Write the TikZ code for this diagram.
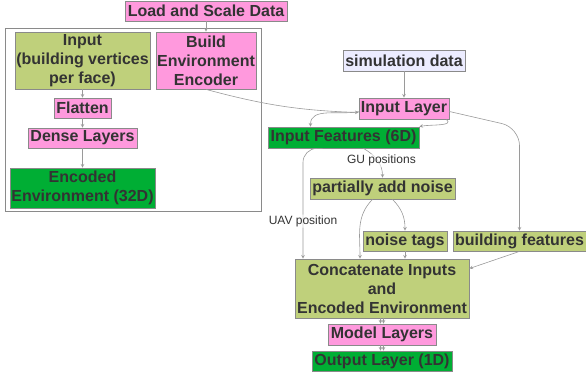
\documentclass[tikz,border=0pt]{standalone}
\usepackage{fontspec}
\setsansfont{Liberation Sans}
\definecolor{pinkfill}{HTML}{FF99DD}
\definecolor{olivefill}{HTML}{BFD07B}
\definecolor{greenfill}{HTML}{00AE34}
\definecolor{lavfill}{HTML}{ECECFF}
\definecolor{boxgray}{HTML}{8A8A8A}
\definecolor{edgegray}{HTML}{9A9A9A}
\definecolor{textgray}{HTML}{333333}

\begin{document}
\begin{tikzpicture}[x=1pt,y=-1pt,->,>=stealth,line/.style={draw=edgegray,line width=0.6pt},
	box node/.style={draw=boxgray,line width=0.8pt,inner sep=0pt,align=center,text=textgray,font=\sffamily\bfseries\fontsize{16}{19}\selectfont},
	pink node/.style={box node,fill=pinkfill},
	olive node/.style={box node,fill=olivefill},
	green node/.style={box node,fill=greenfill},
	data node/.style={box node,fill=lavfill},
	edge label/.style={font=\sffamily\fontsize{12}{14}\selectfont,text=textgray,fill=white,fill opacity=0.6,text opacity=1,inner sep=1pt}]
	
	\useasboundingbox (0,0) rectangle (586,378);
	\draw[-,draw=boxgray,line width=0.8pt] (5,28) rectangle (261,211);
	
	\node[pink node,minimum width=162pt,minimum height=20pt] (1) at (206,11) {Load and Scale Data};
	\node[olive node,minimum width=135pt,minimum height=57pt] (2) at (82.5,60.5) {Input\\(building vertices\\per face)};
	\node[pink node,minimum width=100pt,minimum height=57pt] (3) at (206,60.5) {Build\\Environment\\Encoder};
	\node[pink node,minimum width=57pt,minimum height=20pt] (4) at (82.5,108) {Flatten};
	\node[pink node,minimum width=109pt,minimum height=20pt] (5) at (82.5,138) {Dense Layers};
	\node[green node,minimum width=145pt,minimum height=40pt] (6) at (82.5,188) {Encoded\\Environment (32D)};
	
	\node[data node,minimum width=122pt,minimum height=21pt] (7) at (404,60.5) {simulation data};
	\node[pink node,minimum width=90pt,minimum height=21pt] (8) at (404,108.5) {Input Layer};
	\node[green node,minimum width=151pt,minimum height=21pt] (9) at (343.5,137.5) {Input Features (6D)};
	\node[olive node,minimum width=145pt,minimum height=21pt] (10) at (382.5,188.5) {partially add noise};
	\node[olive node,minimum width=84pt,minimum height=20pt] (11) at (405,241) {noise tags};
	\node[olive node,minimum width=133pt,minimum height=20pt] (12) at (519.5,241) {building features};
	\node[olive node,minimum width=174pt,minimum height=59pt] (13) at (382,288.5) {Concatenate Inputs\\and\\Encoded Environment};
	\node[pink node,minimum width=108pt,minimum height=21pt] (14) at (382,334.5) {Model Layers};
	\node[green node,minimum width=140pt,minimum height=20pt] (15) at (382,361) {Output Layer (1D)};
	
	% encoder column
	\draw[line] (1) -- (3);
	\draw[line] (2) -- (4);
	\draw[line] (4) -- (5);
	\draw[line] (5) -- (6);
	\draw[line] (3.south) to [out=-15,in=178] ([yshift=-4pt]8.west);
	
	% input side
	\draw[line] (7) -- (8);
	\draw[line] ([yshift=-3pt]8.west) to [out=192,in=90] ([xshift=-33pt]9.north);
	\draw[line] ([xshift=-3pt]8.south east) to [out=-40,in=12] (9.north east);
	\draw[line,rounded corners=18pt] ([yshift=-3pt]8.east) -- ([yshift=103pt]12.north) -- (12.north);
	\draw[line] ([xshift=20pt]9.south) to [out=-30,in=90] node[edge label,pos=0.5,xshift=4pt] {GU positions} (10.north);
	\draw[line,rounded corners=14pt] ([xshift=-21pt]9.south) -| ([xshift=-79pt]13.north) node[edge label,pos=0.83] {UAV position};
	\draw[line] ([xshift=10pt]10.south) to [out=-45,in=90] (11.north);
	\draw[line] ([xshift=-10pt]10.south) to [out=-135,in=90] ([xshift=-22pt]13.north);
	\draw[line] (11.south) -- (11.south |- 13.north);
	\draw[line] (12.south) -- ([yshift=20pt]13.east);
	
	% output side
	\draw[line] ([xshift=-1.5pt]13.south) -- ([xshift=-1.5pt]14.north);
	\draw[line] ([xshift=1.5pt]13.south) -- ([xshift=1.5pt]14.north);
	\draw[line] ([xshift=-1.5pt]14.south) -- ([xshift=-1.5pt]15.north);
	\draw[line] ([xshift=1.5pt]14.south) -- ([xshift=1.5pt]15.north);
\end{tikzpicture}
\end{document}
